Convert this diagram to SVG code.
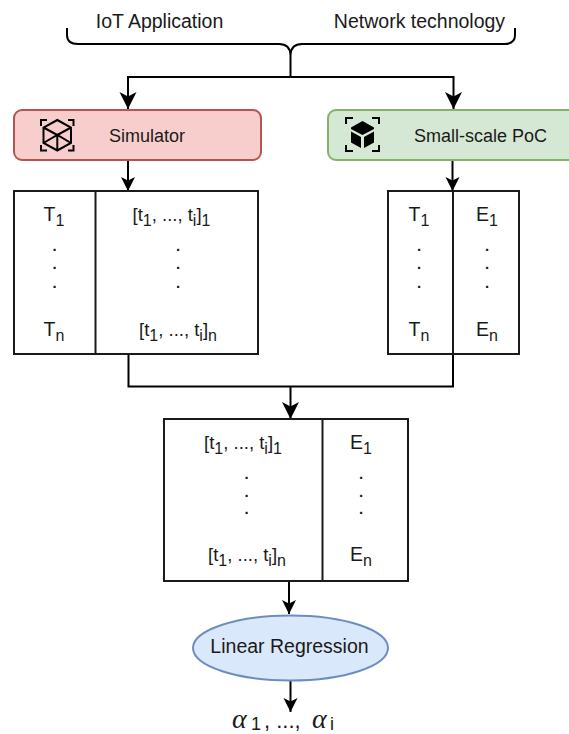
<svg xmlns="http://www.w3.org/2000/svg" width="569" height="734" viewBox="0 0 569 734">
<style>
text{font-family:"Liberation Sans",Arial,sans-serif;fill:#1a1a1a;font-size:18px;text-anchor:middle}
.t{font-size:19.5px}
.m{font-size:18.500px}
.c{fill:none;stroke:#000;stroke-width:2}
.b{fill:#fff;stroke:#1a1a1a;stroke-width:2}
.s{font-size:16px}
.d{font-size:15px;font-weight:bold}
.ico{fill:none;stroke:#000;stroke-width:2}
.g{font-family:"Liberation Serif",serif;font-style:italic;font-size:28px;text-anchor:start}
.o{font-size:22px;text-anchor:start}
.u{font-size:18px}
</style>
<defs>
<marker id="big" markerUnits="userSpaceOnUse" markerWidth="20" markerHeight="20" refX="17" refY="9" orient="auto"><path d="M0 0.5L17 9L0 17.5L4.5 9Z" fill="#000"/></marker>
<marker id="small" markerUnits="userSpaceOnUse" markerWidth="16" markerHeight="16" refX="14" refY="7" orient="auto"><path d="M0 0L14 7L0 14L3.5 7Z" fill="#000"/></marker>
</defs>
<g id="connectors">
<path class="c" d="M67 28V35Q67 44 78 44H279Q290 44 290.500 55Q291 44 302 44H504Q515 44 515 35V28"/>
<path class="c" d="M290.500 55V77"/>
<path class="c" marker-end="url(#big)" d="M290.500 77H128V109"/>
<path class="c" marker-end="url(#big)" d="M290.500 77H453.500V109"/>
<path class="c" marker-end="url(#small)" d="M128 160V191"/>
<path class="c" marker-end="url(#small)" d="M452.500 160V191"/>
<path class="c" d="M128.500 354V386.500H453V354"/>
<path class="c" marker-end="url(#big)" d="M290.500 386.500V419"/>
<path class="c" marker-end="url(#small)" d="M289 581V614"/>
<path class="c" marker-end="url(#small)" d="M290.500 681V712"/>
</g>
<g id="iot-label"><text class="t" x="159.500" y="28">IoT Application</text></g>
<g id="network-label"><text class="t" x="419.500" y="28">Network technology</text></g>
<g id="simulator">
<rect x="14" y="110" width="247" height="50" rx="8" fill="#f8cecc" stroke="#b85450" stroke-width="2"/>
<text x="147" y="142">Simulator</text>
<path class="ico" d="M41 126V120H47M68 120H73.500V126M41 145V150.500H47M68 150.500H73.500V145"/>
<path class="ico" d="M57.300 120L71 127.500V143L57.300 150.500L43.500 143V127.500ZM43.500 127.500L57.300 135L71 127.500M57.300 135V150.500M43.500 143L57.300 135L71 143"/>
</g>
<g id="poc">
<rect x="328" y="110" width="250" height="50" rx="8" fill="#d5e8d4" stroke="#82b366" stroke-width="2"/>
<text x="480.500" y="142">Small-scale PoC</text>
<path class="ico" d="M346 124V118H353M372 118H379V124M346 145V151H353M372 151H379V145"/>
<path d="M362.500 121L374 127.500V129L362.500 135L351 129V127.500ZM351 131.500L361 137V148L351 142.500ZM374 131.500L364 137V148L374 142.500Z" fill="#000"/>
</g>
<g id="table-sim">
<rect class="b" x="14" y="191" width="244" height="163"/>
<path class="c" d="M95.500 191V354" style="stroke:#1a1a1a"/>
<text class="t" x="54" y="220.500">T<tspan class="s" dy="5">1</tspan></text>
<text class="d" x="54.500" y="250.500">.</text><text class="d" x="54.500" y="268.500">.</text><text class="d" x="54.500" y="287.500">.</text>
<text class="t" x="54" y="335.500">T<tspan class="s" dy="5">n</tspan></text>
<text class="m" x="171.500" y="220.500">[t<tspan class="s" dy="5">1</tspan><tspan dy="-5">, ..., t</tspan><tspan class="s" dy="5">i</tspan><tspan dy="-5">]</tspan><tspan class="s" dy="5">1</tspan></text>
<text class="d" x="178" y="250.500">.</text><text class="d" x="178" y="268.500">.</text><text class="d" x="178" y="287.500">.</text>
<text class="m" x="178" y="335.500">[t<tspan class="s" dy="5">1</tspan><tspan dy="-5">, ..., t</tspan><tspan class="s" dy="5">i</tspan><tspan dy="-5">]</tspan><tspan class="s" dy="5">n</tspan></text>
</g>
<g id="table-poc">
<rect class="b" x="388" y="191" width="131" height="163"/>
<path class="c" d="M453 191V354" style="stroke:#1a1a1a"/>
<text class="t" x="419" y="220.500">T<tspan class="s" dy="5">1</tspan></text>
<text class="d" x="419" y="250.500">.</text><text class="d" x="419" y="268.500">.</text><text class="d" x="419" y="287.500">.</text>
<text class="t" x="419" y="335.500">T<tspan class="s" dy="5">n</tspan></text>
<text class="t" x="487" y="220.500">E<tspan class="s" dy="5">1</tspan></text>
<text class="d" x="487" y="250.500">.</text><text class="d" x="487" y="268.500">.</text><text class="d" x="487" y="287.500">.</text>
<text class="t" x="487" y="335.500">E<tspan class="s" dy="5">n</tspan></text>
</g>
<g id="table-merged">
<rect class="b" x="164" y="419" width="244" height="162"/>
<path class="c" d="M322.500 419V581" style="stroke:#1a1a1a"/>
<text class="m" x="243" y="448.500">[t<tspan class="s" dy="5">1</tspan><tspan dy="-5">, ..., t</tspan><tspan class="s" dy="5">i</tspan><tspan dy="-5">]</tspan><tspan class="s" dy="5">1</tspan></text>
<text class="d" x="246.500" y="479">.</text><text class="d" x="246.500" y="497">.</text><text class="d" x="246.500" y="514">.</text>
<text class="m" x="247" y="561">[t<tspan class="s" dy="5">1</tspan><tspan dy="-5">, ..., t</tspan><tspan class="s" dy="5">i</tspan><tspan dy="-5">]</tspan><tspan class="s" dy="5">n</tspan></text>
<text class="t" x="361" y="448.500">E<tspan class="s" dy="5">1</tspan></text>
<text class="d" x="361" y="479">.</text><text class="d" x="361" y="497">.</text><text class="d" x="361" y="514">.</text>
<text class="t" x="361" y="561">E<tspan class="s" dy="5">n</tspan></text>
</g>
<g id="regression">
<ellipse cx="290.500" cy="648" rx="97.500" ry="32.500" fill="#dae8fc" stroke="#6c8ebf" stroke-width="2"/>
<text class="t" x="289.500" y="653">Linear Regression</text>
</g>
<g id="output">
<text class="o" x="232" y="728"><tspan class="g">α</tspan><tspan class="u" x="251" y="730">1</tspan><tspan x="264" y="728">, ..., </tspan><tspan class="g" x="312">α</tspan><tspan class="u" x="330" y="730">i</tspan></text>
</g>
</svg>
